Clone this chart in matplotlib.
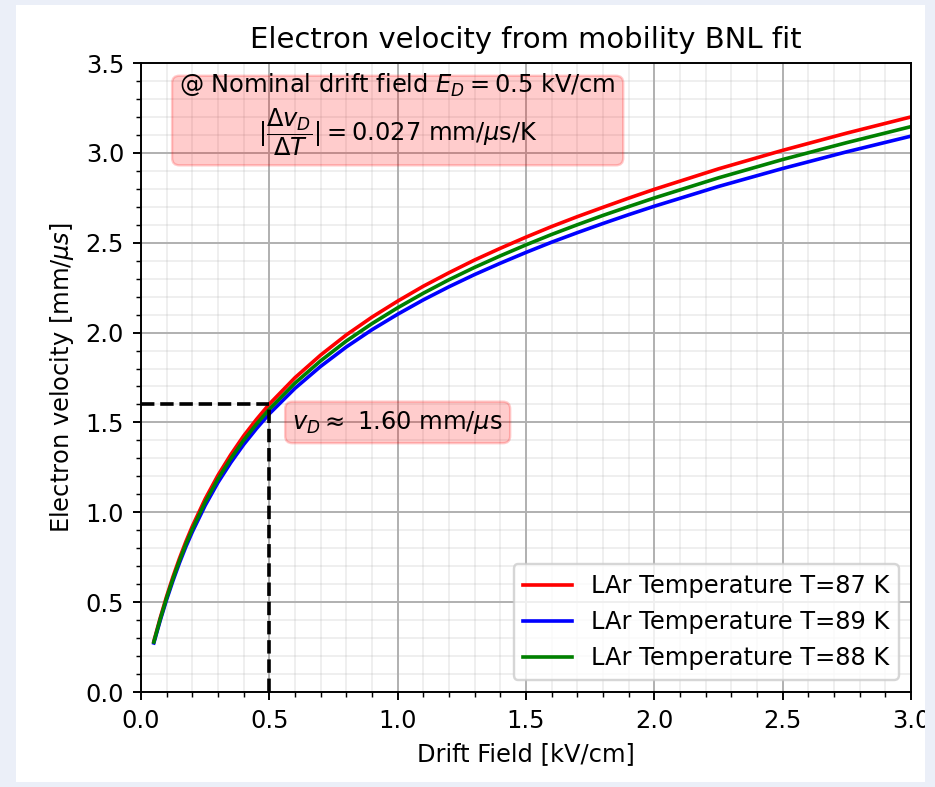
import matplotlib
matplotlib.use("Agg")
import matplotlib.pyplot as plt
from matplotlib.patches import Rectangle
from matplotlib.ticker import MultipleLocator

# drift field [kV/cm] and electron velocity [mm/us]
field = [0.05, 0.075, 0.1, 0.125, 0.15, 0.175, 0.2, 0.25, 0.3, 0.35, 0.4,
         0.45, 0.5, 0.6, 0.7, 0.8, 0.9, 1.0, 1.1, 1.2, 1.3, 1.4, 1.5, 1.6,
         1.7, 1.8, 1.9, 2.0, 2.25, 2.5, 2.75, 3.0]
v_87 = [0.282, 0.413, 0.533, 0.643, 0.744, 0.837, 0.922, 1.074, 1.206, 1.321,
        1.425, 1.517, 1.602, 1.749, 1.875, 1.987, 2.086, 2.175, 2.258, 2.333,
        2.404, 2.469, 2.531, 2.590, 2.645, 2.697, 2.748, 2.797, 2.911, 3.014,
        3.110, 3.200]
v_89 = [0.273, 0.399, 0.515, 0.621, 0.719, 0.809, 0.891, 1.038, 1.166, 1.277,
        1.377, 1.466, 1.548, 1.690, 1.812, 1.920, 2.016, 2.102, 2.182, 2.255,
        2.323, 2.386, 2.446, 2.503, 2.556, 2.607, 2.656, 2.703, 2.813, 2.913,
        3.006, 3.093]
v_88 = [0.278, 0.406, 0.524, 0.632, 0.731, 0.823, 0.906, 1.056, 1.186, 1.299,
        1.401, 1.491, 1.574, 1.719, 1.843, 1.953, 2.050, 2.138, 2.219, 2.294,
        2.363, 2.427, 2.488, 2.546, 2.600, 2.652, 2.701, 2.749, 2.861, 2.963,
        3.057, 3.146]

series = [("LAr Temperature T=87 K", v_87, "red"),
          ("LAr Temperature T=89 K", v_89, "blue"),
          ("LAr Temperature T=88 K", v_88, "green")]

E_nom = 0.5
v_nom = 1.60
dv_dT = 0.027

dpi = 174
fig = plt.figure(figsize=(935 / dpi, 787 / dpi), dpi=dpi)
fig.patch.set_facecolor("white")
ax = fig.add_axes([141 / 935, 95 / 787, 770 / 935, 629 / 787])

for label, v, c in series:
    ax.plot(field, v, color=c, label=label)

ax.plot([0, E_nom], [v_nom, v_nom], "k--")
ax.plot([E_nom, E_nom], [0, v_nom], "k--")

ax.set_xlim(0, 3)
ax.set_ylim(0, 3.5)
ax.xaxis.set_minor_locator(MultipleLocator(0.1))
ax.yaxis.set_minor_locator(MultipleLocator(0.1))
ax.grid(which="major", color="#b0b0b0", linewidth=0.8)
ax.grid(which="minor", color="#b0b0b0", linewidth=0.8, alpha=0.2)

ax.set_title("Electron velocity from mobility BNL fit", fontsize=12)
ax.set_xlabel("Drift Field [kV/cm]")
ax.set_ylabel(r"Electron velocity [mm/$\mu s$]")

ax.text(1.0, 3.21,
        "@ Nominal drift field $E_D = %.1f$ kV/cm\n"
        r"$|\dfrac{\Delta v_D}{\Delta T}| = %.3f$ mm/$\mu$s/K" % (E_nom, dv_dT),
        ha="center", va="center", multialignment="center",
        bbox=dict(boxstyle="round", fc="red", ec="red", alpha=0.2))
ax.text(1.0, 1.5, r"$v_D \approx$ %.2f mm/$\mu$s" % v_nom,
        ha="center", va="center",
        bbox=dict(boxstyle="round", fc="red", ec="red", alpha=0.2))

ax.legend(loc="lower right")

# light frame around the white panel
frame = "#ebeff8"
for r in [(0, 0, 16 / 935, 1), (925 / 935, 0, 10 / 935, 1),
          (0, 0, 1, 5 / 787), (0, 782 / 787, 1, 5 / 787)]:
    fig.add_artist(Rectangle(r[:2], r[2], r[3], transform=fig.transFigure,
                             facecolor=frame, edgecolor="none", zorder=10))

fig.savefig("out.png", dpi=dpi)
